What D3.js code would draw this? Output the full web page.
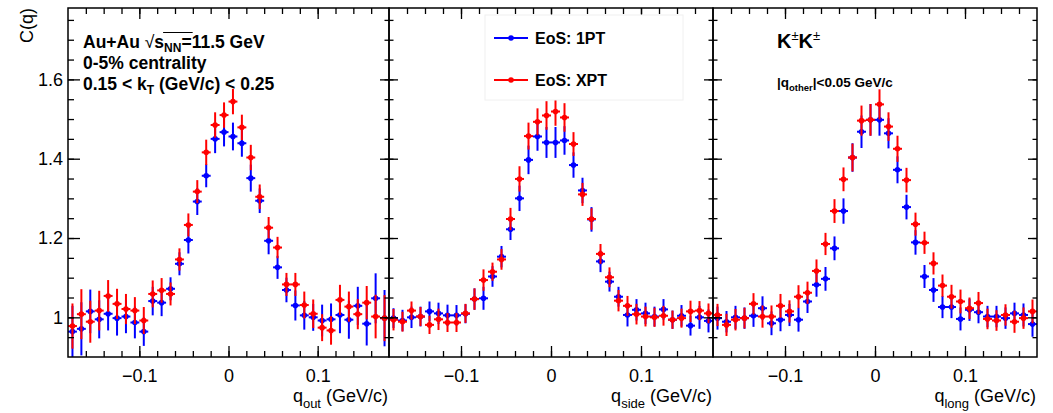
<!DOCTYPE html>
<html>
<head>
<meta charset="utf-8">
<script src="https://cdn.jsdelivr.net/npm/d3@7"></script>
<style>
  body { margin: 0; background: #fff; }
  svg { display: block; }
  text { font-family: "Liberation Sans", Arial, Helvetica, sans-serif; }
</style>
</head>
<body>
<svg id="chart" width="1053" height="413"></svg>
<script>
// Bin centres (GeV/c), shared by all three projections
const qBins = [-0.175, -0.165, -0.155, -0.145, -0.135, -0.125, -0.115, -0.105, -0.095, -0.085,
               -0.075, -0.065, -0.055, -0.045, -0.035, -0.025, -0.015, -0.005, 0.005, 0.015,
               0.025, 0.035, 0.045, 0.055, 0.065, 0.075, 0.085, 0.095, 0.105, 0.115,
               0.125, 0.135, 0.145, 0.155, 0.165, 0.175];
const binHalfWidth = 0.005;

// q_out projection
const outBlue = [0.964, 0.971, 1.015, 0.995, 1.009, 0.998, 1.002, 0.987, 0.964, 1.041, 1.037, 1.072,
                 1.135, 1.195, 1.292, 1.357, 1.450, 1.467, 1.456, 1.439, 1.351, 1.294, 1.193, 1.126,
                 1.069, 1.030, 1.005, 1.000, 0.992, 0.995, 1.006, 0.994, 1.029, 0.984, 1.048, 0.998];
const outBlueErr = [0.065, 0.067, 0.055, 0.048, 0.042, 0.044, 0.042, 0.040, 0.036, 0.036, 0.034, 0.029,
                    0.029, 0.034, 0.034, 0.029, 0.036, 0.036, 0.035, 0.034, 0.034, 0.031, 0.034, 0.029,
                    0.031, 0.038, 0.036, 0.034, 0.040, 0.040, 0.046, 0.048, 0.048, 0.055, 0.063, 0.071];
const outRed = [0.978, 1.008, 0.989, 1.017, 1.054, 1.034, 1.021, 1.017, 0.992, 1.059, 1.068, 1.059,
                1.146, 1.233, 1.317, 1.416, 1.485, 1.510, 1.544, 1.479, 1.403, 1.304, 1.226, 1.176,
                1.083, 1.083, 1.031, 1.009, 0.974, 0.967, 1.044, 1.027, 1.008, 1.037, 1.002, 0.998];
const outRedErr = [0.057, 0.063, 0.053, 0.050, 0.040, 0.038, 0.038, 0.034, 0.034, 0.034, 0.031, 0.029,
                   0.028, 0.029, 0.029, 0.032, 0.032, 0.032, 0.032, 0.032, 0.032, 0.031, 0.027, 0.027,
                   0.029, 0.029, 0.034, 0.036, 0.034, 0.036, 0.038, 0.038, 0.038, 0.042, 0.055, 0.058];

// q_side projection
const sideBlue = [0.998, 0.992, 1.000, 1.002, 1.015, 1.010, 1.005, 1.005, 1.009, 1.046, 1.048, 1.103,
                  1.153, 1.222, 1.300, 1.397, 1.456, 1.441, 1.441, 1.446, 1.384, 1.320, 1.247, 1.141,
                  1.090, 1.052, 1.006, 1.019, 1.010, 1.002, 1.020, 0.994, 1.004, 0.979, 1.000, 0.991];
const sideBlueErr = [0.025, 0.027, 0.027, 0.025, 0.025, 0.027, 0.027, 0.026, 0.024, 0.027, 0.029, 0.026,
                     0.027, 0.027, 0.032, 0.036, 0.036, 0.039, 0.039, 0.036, 0.032, 0.032, 0.031, 0.027,
                     0.025, 0.025, 0.029, 0.027, 0.027, 0.025, 0.026, 0.023, 0.027, 0.025, 0.029, 0.029];
const sideRed = [0.994, 0.989, 1.017, 1.002, 0.981, 0.995, 0.987, 0.987, 1.010, 1.046, 1.094, 1.115,
                 1.146, 1.248, 1.349, 1.457, 1.493, 1.509, 1.519, 1.504, 1.437, 1.310, 1.248, 1.160,
                 1.101, 1.042, 1.029, 1.008, 1.002, 1.000, 1.004, 0.994, 0.998, 1.015, 1.017, 1.010];
const sideRedErr = [0.027, 0.025, 0.023, 0.024, 0.023, 0.027, 0.024, 0.024, 0.024, 0.027, 0.027, 0.023,
                    0.026, 0.028, 0.032, 0.034, 0.034, 0.036, 0.036, 0.036, 0.030, 0.029, 0.027, 0.025,
                    0.025, 0.027, 0.025, 0.026, 0.025, 0.024, 0.025, 0.023, 0.024, 0.027, 0.024, 0.025];

// q_long projection
const longBlue = [0.998, 0.989, 1.000, 0.998, 1.004, 1.023, 0.985, 0.994, 1.006, 0.994, 1.040, 1.082,
                  1.097, 1.174, 1.268, 1.403, 1.468, 1.498, 1.498, 1.464, 1.372, 1.278, 1.189, 1.103,
                  1.069, 1.026, 1.026, 0.996, 1.019, 1.013, 1.002, 1.002, 0.998, 1.010, 1.006, 0.983];
const longBlueErr = [0.029, 0.027, 0.029, 0.027, 0.028, 0.030, 0.030, 0.029, 0.028, 0.030, 0.029, 0.030,
                     0.030, 0.030, 0.032, 0.036, 0.041, 0.040, 0.040, 0.038, 0.034, 0.031, 0.031, 0.029,
                     0.030, 0.028, 0.028, 0.029, 0.028, 0.028, 0.027, 0.027, 0.027, 0.027, 0.029, 0.032];
const longRed = [1.006, 0.981, 0.994, 0.998, 1.034, 1.002, 1.002, 1.029, 1.015, 1.052, 1.062, 1.117,
                 1.185, 1.268, 1.348, 1.403, 1.496, 1.498, 1.537, 1.481, 1.425, 1.346, 1.235, 1.188,
                 1.136, 1.080, 1.052, 1.040, 1.023, 1.036, 0.996, 0.992, 1.006, 0.989, 0.998, 1.015];
const longRedErr = [0.028, 0.028, 0.027, 0.026, 0.027, 0.028, 0.028, 0.030, 0.028, 0.029, 0.028, 0.029,
                    0.028, 0.030, 0.030, 0.035, 0.038, 0.040, 0.038, 0.036, 0.033, 0.031, 0.029, 0.028,
                    0.028, 0.028, 0.030, 0.030, 0.027, 0.028, 0.026, 0.026, 0.027, 0.028, 0.027, 0.030];

// Axis ranges and tick values
const xDomain = [-0.18, 0.18];
const yDomain = [0.9, 1.78];
const xMajorTicks = [-0.1, 0, 0.1];
const xMinorTicks = [-0.16, -0.14, -0.12, -0.1, -0.08, -0.06, -0.04, -0.02, 0, 0.02, 0.04, 0.06, 0.08, 0.1, 0.12, 0.14, 0.16];
const xTickLabels = ["\u22120.1", "0", "0.1"];
const yMajorTicks = [1.0, 1.2, 1.4, 1.6];
const yMinorTicks = [0.95, 1.0, 1.05, 1.1, 1.15, 1.2, 1.25, 1.3, 1.35, 1.4, 1.45, 1.5, 1.55, 1.6, 1.65, 1.7, 1.75];
const yTickLabels = ["1", "1.2", "1.4", "1.6"];

const seriesNames = ["EoS: 1PT", "EoS: XPT"];
const seriesColors = ["#0000ff", "#ff0000"];
const projections = ["out", "side", "long"];

// ---- layout ----
const svg = d3.select("#chart");
const plotTop = 8, plotBottom = 357;
const panelEdges = [[68, 389], [389, 713], [713, 1037]];
const FONT = '"Liberation Sans", Arial, Helvetica, sans-serif';

svg.append("rect").attr("width", 1053).attr("height", 413).attr("fill", "#fff");

const y = d3.scaleLinear().domain(yDomain).range([plotBottom, plotTop]);

const panelData = [
  [[outBlue, outBlueErr], [outRed, outRedErr]],
  [[sideBlue, sideBlueErr], [sideRed, sideRedErr]],
  [[longBlue, longBlueErr], [longRed, longRedErr]]
];

function styleAxis(g, fontSize) {
  g.select(".domain").remove();
  g.selectAll(".tick line").attr("stroke", "#000").attr("stroke-width", 1.3);
  g.selectAll(".tick text").attr("fill", "#000").attr("font-size", fontSize).attr("font-family", FONT);
}

panelEdges.forEach(([x0, x1], pi) => {
  const x = d3.scaleLinear().domain(xDomain).range([x0, x1]);
  const g = svg.append("g");
  const yMaj = pi === 0 ? 12 : 9, yMin = pi === 0 ? 6 : 4.5;

  // data, clipped to the frame
  const clipId = "clip" + pi;
  svg.append("clipPath").attr("id", clipId).append("rect")
    .attr("x", x0).attr("y", plotTop).attr("width", x1 - x0).attr("height", plotBottom - plotTop);
  const dg = g.append("g").attr("clip-path", `url(#${clipId})`);

  panelData[pi].forEach(([vals, errs], si) => {
    const col = seriesColors[si];
    const pts = qBins.map((q, i) => ({ q, v: vals[i], e: errs[i] }));
    const sg = dg.append("g");
    sg.selectAll("line.ey").data(pts).join("line").attr("class", "ey")
      .attr("x1", d => x(d.q)).attr("x2", d => x(d.q))
      .attr("y1", d => y(d.v - d.e)).attr("y2", d => y(d.v + d.e))
      .attr("stroke", col).attr("stroke-width", 2);
    sg.selectAll("line.ex").data(pts).join("line").attr("class", "ex")
      .attr("x1", d => x(d.q - binHalfWidth)).attr("x2", d => x(d.q + binHalfWidth))
      .attr("y1", d => y(d.v)).attr("y2", d => y(d.v))
      .attr("stroke", col).attr("stroke-width", 2);
    sg.selectAll("circle").data(pts).join("circle")
      .attr("cx", d => x(d.q)).attr("cy", d => y(d.v)).attr("r", 2.8)
      .attr("fill", col);
  });

  // bottom axis (major with labels, minor)
  g.append("g").attr("transform", `translate(0,${plotBottom})`)
    .call(d3.axisBottom(x).tickValues(xMinorTicks).tickSizeInner(-6).tickSizeOuter(0).tickFormat(""))
    .call(a => styleAxis(a, 18));
  g.append("g").attr("transform", `translate(0,${plotBottom})`)
    .call(d3.axisBottom(x).tickValues(xMajorTicks).tickSizeInner(-11).tickSizeOuter(0).tickPadding(12)
      .tickFormat((d, i) => xTickLabels[i]))
    .call(a => styleAxis(a, 18));
  // top axis
  g.append("g").attr("transform", `translate(0,${plotTop})`)
    .call(d3.axisTop(x).tickValues(xMinorTicks).tickSizeInner(-6).tickSizeOuter(0).tickFormat(""))
    .call(a => styleAxis(a, 18));
  g.append("g").attr("transform", `translate(0,${plotTop})`)
    .call(d3.axisTop(x).tickValues(xMajorTicks).tickSizeInner(-11).tickSizeOuter(0).tickFormat(""))
    .call(a => styleAxis(a, 18));
  // left axis
  g.append("g").attr("transform", `translate(${x0},0)`)
    .call(d3.axisLeft(y).tickValues(yMinorTicks).tickSizeInner(-yMin).tickSizeOuter(0).tickFormat(""))
    .call(a => styleAxis(a, 18));
  g.append("g").attr("transform", `translate(${x0},0)`)
    .call(d3.axisLeft(y).tickValues(yMajorTicks).tickSizeInner(-yMaj).tickSizeOuter(0).tickPadding(5)
      .tickFormat((d, i) => pi === 0 ? yTickLabels[i] : ""))
    .call(a => styleAxis(a, 18));
  // right axis
  g.append("g").attr("transform", `translate(${x1},0)`)
    .call(d3.axisRight(y).tickValues(yMinorTicks).tickSizeInner(-4.5).tickSizeOuter(0).tickFormat(""))
    .call(a => styleAxis(a, 18));
  g.append("g").attr("transform", `translate(${x1},0)`)
    .call(d3.axisRight(y).tickValues(yMajorTicks).tickSizeInner(-9).tickSizeOuter(0).tickFormat(""))
    .call(a => styleAxis(a, 18));

  // frame
  g.append("rect").attr("x", x0).attr("y", plotTop).attr("width", x1 - x0).attr("height", plotBottom - plotTop)
    .attr("fill", "none").attr("stroke", "#000").attr("stroke-width", 1.5);

  // axis title: q_sub (GeV/c), right-aligned to the frame
  const t = svg.append("text").attr("x", x1 - 1).attr("y", 402).attr("text-anchor", "end")
    .attr("font-size", 18).attr("fill", "#000");
  t.append("tspan").text("q");
  t.append("tspan").attr("font-size", 13).attr("dy", 6).text(projections[pi]);
  t.append("tspan").attr("dy", -6).text(" (GeV/c)");
});

// y-axis title
svg.append("text").attr("transform", "translate(33,8) rotate(-90)").attr("text-anchor", "end")
  .attr("font-size", 18).attr("fill", "#000").text("C(q)");

// ---- annotations, left panel ----
const ann = svg.append("g").attr("font-weight", "bold").attr("font-size", 17.5).attr("fill", "#000");
const l1 = ann.append("text").attr("x", 83).attr("y", 48);
l1.append("tspan").text("Au+Au  ");
l1.append("tspan").attr("font-weight", "normal").text("\u221A");
l1.append("tspan").text("s");
l1.append("tspan").attr("font-size", 12).attr("dy", 4).text("NN");
l1.append("tspan").attr("dy", -4).text("=11.5 GeV");
{
  // overline of the radical, spanning s_NN
  const node = l1.node();
  const rad = node.getExtentOfChar(7);
  const nn = node.getExtentOfChar(10);
  ann.append("line").attr("x1", rad.x + rad.width - 1).attr("x2", nn.x + nn.width + 1)
    .attr("y1", 32.5).attr("y2", 32.5).attr("stroke", "#000").attr("stroke-width", 1);
}
ann.append("text").attr("x", 83).attr("y", 69).text("0-5% centrality");
const l3 = ann.append("text").attr("x", 83).attr("y", 90);
l3.append("tspan").text("0.15 < k");
l3.append("tspan").attr("font-size", 12).attr("dy", 4).text("T");
l3.append("tspan").attr("dy", -4).text(" (GeV/c) < 0.25");

// ---- legend, middle panel ----
const leg = svg.append("g");
leg.append("rect").attr("x", 485).attr("y", 15).attr("width", 198).attr("height", 85)
  .attr("fill", "#fff").attr("stroke", "#f0f0f0").attr("stroke-width", 1);
seriesNames.forEach((name, i) => {
  const ly = 38 + i * 42;
  leg.append("line").attr("x1", 494).attr("x2", 528).attr("y1", ly).attr("y2", ly)
    .attr("stroke", seriesColors[i]).attr("stroke-width", 2);
  leg.append("circle").attr("cx", 511).attr("cy", ly).attr("r", 2.8).attr("fill", seriesColors[i]);
  leg.append("text").attr("x", 535).attr("y", ly + 5.5).attr("font-size", 16).attr("font-weight", "bold")
    .attr("fill", "#000").text(name);
});

// ---- annotations, right panel ----
const kk = svg.append("text").attr("x", 777).attr("y", 48).attr("font-size", 20).attr("font-weight", "bold").attr("fill", "#000");
kk.append("tspan").text("K");
kk.append("tspan").attr("font-size", 13).attr("font-weight", "normal").attr("dy", -8).text("\u00B1");
kk.append("tspan").attr("dy", 8).text("K");
kk.append("tspan").attr("font-size", 13).attr("font-weight", "normal").attr("dy", -8).text("\u00B1");

const qo = svg.append("text").attr("x", 777).attr("y", 87).attr("font-size", 13.5).attr("font-weight", "bold").attr("fill", "#000");
qo.append("tspan").text("|q");
qo.append("tspan").attr("font-size", 9.5).attr("dy", 4).text("other");
qo.append("tspan").attr("dy", -4).text("|<0.05 GeV/c");
</script>
</body>
</html>
